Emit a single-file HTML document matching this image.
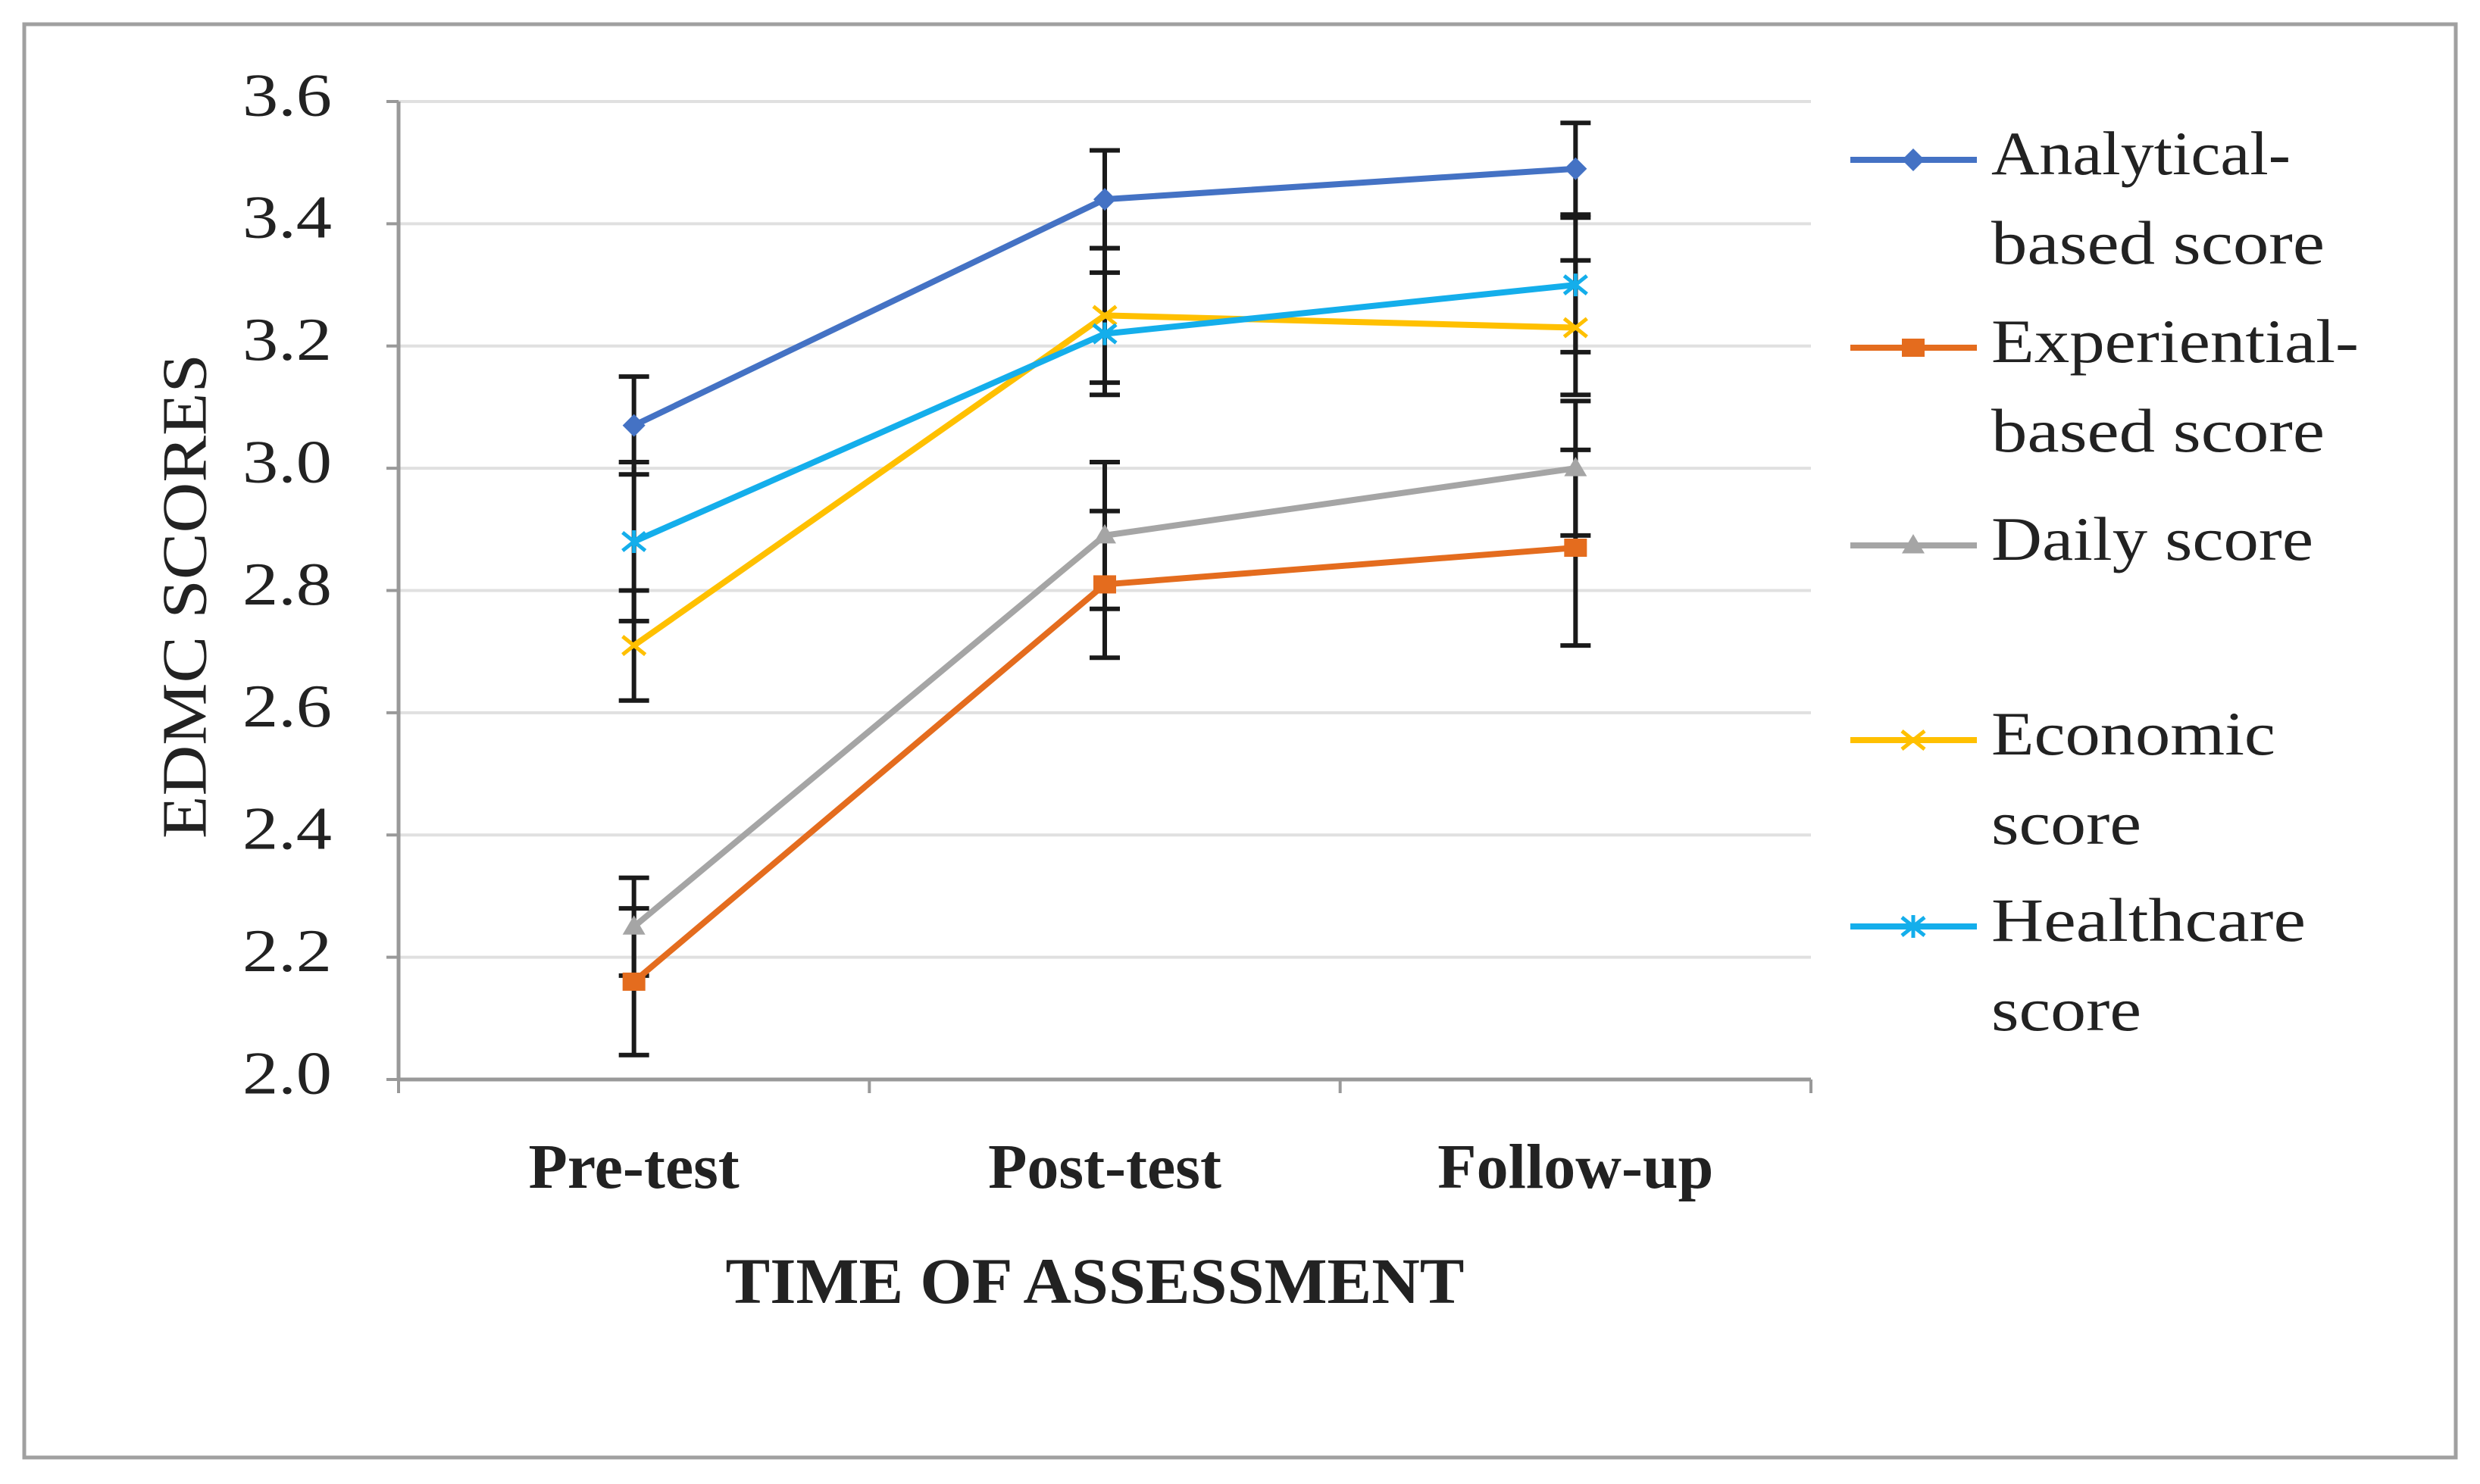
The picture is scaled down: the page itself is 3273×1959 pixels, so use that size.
<!DOCTYPE html>
<html><head><meta charset="utf-8"><style>
html,body{margin:0;padding:0;background:#fff;}
svg{display:block;}
text{font-family:"Liberation Serif",serif;fill:#222;}
</style></head><body>
<svg id="chart" width="3273" height="1959" viewBox="0 0 3273 1959" xmlns="http://www.w3.org/2000/svg">
<rect x="32" y="32" width="3209" height="1892" fill="#fff" stroke="#a0a0a0" stroke-width="5"/>
<g id="grid"></g>
<g id="axes"></g>
<g id="series"></g>
<g id="legend"></g>
<text transform="translate(252,787) rotate(-90)" text-anchor="middle" font-size="84" dominant-baseline="middle" textLength="640" lengthAdjust="spacingAndGlyphs">EDMC SCORES</text>
<text x="1445" y="1720" text-anchor="middle" font-size="86" font-weight="bold" textLength="975" lengthAdjust="spacingAndGlyphs">TIME OF ASSESSMENT</text>
</svg>
<script>
const categories = ["Pre-test","Post-test","Follow-up"];
const yTicks = [2.0,2.2,2.4,2.6,2.8,3.0,3.2,3.4,3.6];
const seriesNames = ["Analytical-based score","Experiential-based score","Daily score","Economic score","Healthcare score"];
const analytical = [3.07,3.44,3.49];
const analyticalErr = [0.08,0.08,0.075];
const experiential = [2.16,2.81,2.87];
const experientialErr = [0.12,0.12,0.16];
const daily = [2.25,2.89,3.00];
const dailyErr = [0.08,0.12,0.11];
const economic = [2.71,3.25,3.23];
const economicErr = [0.09,0.11,0.11];
const healthcare = [2.88,3.22,3.30];
const healthcareErr = [0.13,0.10,0.11];

const NS="http://www.w3.org/2000/svg";
const X0=526, X1=2390, Y0=1425, Y1=134, YMIN=2.0, YMAX=3.6;
function yScale(v){return Y0-(v-YMIN)/(YMAX-YMIN)*(Y0-Y1);}
function xScale(i){return X0+(i+0.5)*(X1-X0)/categories.length;}
function mk(tag,attrs,parent){const e=document.createElementNS(NS,tag);for(const k in attrs)e.setAttribute(k,attrs[k]);parent.appendChild(e);return e;}

const grid=document.getElementById('grid'), axes=document.getElementById('axes');
yTicks.forEach(t=>{
  const y=yScale(t);
  if(t>YMIN){const g=mk('line',{x1:X0,x2:X1,y1:y,y2:y,stroke:'#e0e0e0','stroke-width':4},grid);
  
  }
  const tk=mk('line',{x1:X0-16,x2:X0,y1:y,y2:y,stroke:'#999','stroke-width':4},axes);
  
  
  const tx=mk('text',{x:X0-88,y:y,'text-anchor':'end','dominant-baseline':'middle','font-size':80,textLength:118,lengthAdjust:'spacingAndGlyphs'},axes);
  tx.textContent=t.toFixed(1);
  
  
});
const ya=mk('line',{x1:X0,x2:X0,y1:Y1,y2:Y0,stroke:'#999','stroke-width':5},axes);


const xa=mk('line',{x1:X0,x2:X1,y1:Y0,y2:Y0,stroke:'#999','stroke-width':5},axes);


for(let i=0;i<=categories.length;i++){
  const x=X0+i*(X1-X0)/categories.length;
  const tk=mk('line',{x1:x,x2:x,y1:Y0,y2:Y0+18,stroke:'#999','stroke-width':4},axes);
  
  
}
categories.forEach((c,i)=>{
  const tx=mk('text',{x:xScale(i),y:1568,'text-anchor':'middle','font-size':84,'font-weight':'bold'},axes);
  tx.textContent=c;
  
  
});

const colors=['#4472C4','#E46C1E','#A5A5A5','#FFC000','#14AEEB'];
const markers=['diamond','square','triangle','x','star'];
const data=[analytical,experiential,daily,economic,healthcare];
const errs=[analyticalErr,experientialErr,dailyErr,economicErr,healthcareErr];
const sg=document.getElementById('series');
function marker(type,x,y,col,parent){
  const s=15;
  if(type==='diamond') return mk('path',{d:`M${x-s} ${y}L${x} ${y-s}L${x+s} ${y}L${x} ${y+s}Z`,fill:col},parent);
  if(type==='square') return mk('rect',{x:x-s,y:y-s*0.8,width:2*s,height:1.6*s,fill:col},parent);
  if(type==='triangle') return mk('path',{d:`M${x-s} ${y+s*0.7}L${x} ${y-s}L${x+s} ${y+s*0.7}Z`,fill:col},parent);
  const g=mk('g',{},parent);
  mk('path',{d:`M${x-s} ${y-s*0.8}L${x+s} ${y+s*0.8}M${x-s} ${y+s*0.8}L${x+s} ${y-s*0.8}`+(type==='star'?`M${x} ${y-s}L${x} ${y+s}`:''),stroke:col,'stroke-width':5,fill:'none'},g);
  return g;
}
data.forEach((arr,si)=>{
  arr.forEach((v,i)=>{
    const x=xScale(i), lo=yScale(v-errs[si][i]), hi=yScale(v+errs[si][i]);
    const g=mk('g',{stroke:'#1a1a1a','stroke-width':6},sg);
    
    
    mk('line',{x1:x,x2:x,y1:lo,y2:hi},g);
    mk('line',{x1:x-20,x2:x+20,y1:lo,y2:lo},g);
    mk('line',{x1:x-20,x2:x+20,y1:hi,y2:hi},g);
  });
});
data.forEach((arr,si)=>{
  const g=mk('g',{},sg);
  
  
  const pts=arr.map((v,i)=>xScale(i)+','+yScale(v)).join(' ');
  mk('polyline',{points:pts,fill:'none',stroke:colors[si],'stroke-width':8,'stroke-linejoin':'round'},g);
  arr.forEach((v,i)=>{
    const m=marker(markers[si],xScale(i),yScale(v),colors[si],g);
    
    
  });
});

const lg=document.getElementById('legend');
const legendLines=[["Analytical-","based score"],["Experiential-","based score"],["Daily score"],["Economic","score"],["Healthcare","score"]];
const legendWidths=[[395,440],[485,440],[425],[375,198],[415,198]];
const legendY=[211,459,720,977,1223];
legendLines.forEach((lines,si)=>{
  const g=mk('g',{},lg);
  
  
  const y=legendY[si];
  mk('line',{x1:2442,x2:2609,y1:y,y2:y,stroke:colors[si],'stroke-width':8},g);
  marker(markers[si],2525,y,colors[si],g);
  lines.forEach((t,k)=>{
    const tx=mk('text',{x:2628,y:y+k*118,'dominant-baseline':'middle','font-size':82,textLength:legendWidths[si][k],lengthAdjust:'spacingAndGlyphs'},g);
    tx.textContent=t;
  });
});
</script>
</body></html>
